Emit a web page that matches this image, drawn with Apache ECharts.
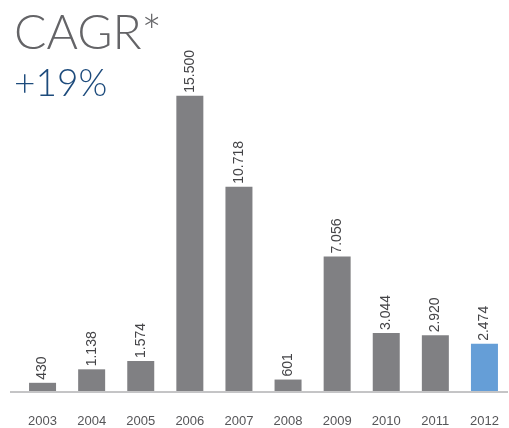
<!DOCTYPE html>
<html>
<head>
<meta charset="utf-8">
<script src="https://cdn.jsdelivr.net/npm/echarts@6/dist/echarts.min.js"></script>
<style>
  html, body { margin: 0; padding: 0; background: #ffffff; }
  #chart { width: 509px; height: 428px; }
</style>
</head>
<body>
<div id="chart"></div>
<script>
const years = ["2003", "2004", "2005", "2006", "2007", "2008", "2009", "2010", "2011", "2012"];
const values = [430, 1138, 1574, 15500, 10718, 601, 7056, 3044, 2920, 2474];
const highlightYear = "2012";

const BAR_COLOR = "#808083";
const HIGHLIGHT_COLOR = "#659ed7";

// 千位分隔符用点号
function fmt(v) {
  return String(v).replace(/\B(?=(\d{3})+(?!\d))/g, ".");
}

const chart = echarts.init(document.getElementById("chart"));

const option = {
  animation: false,
  title: [
    {
      text: "CAGR*",
      left: 9,
      top: 5,
      textStyle: { fontFamily: "Lato", fontSize: 48, fontWeight: 300, color: "#646467" },
    },
    {
      text: "+19%",
      left: 9,
      top: 61,
      textStyle: { fontFamily: "Lato", fontSize: 37, fontWeight: 300, color: "#1d4b7c" },
    },
  ],
  grid: { left: 18, right: 0, top: 10, bottom: 36 },
  xAxis: {
    type: "category",
    data: years,
    axisLine: { show: false },
    axisTick: { show: false },
    axisLabel: {
      margin: 24,
      color: "#555558",
      fontSize: 13,
      fontFamily: "Liberation Sans",
    },
  },
  yAxis: {
    type: "value",
    min: 0,
    max: 20000,
    show: false,
    splitLine: { show: false },
  },
  graphic: [
    {
      type: "line",
      shape: { x1: 10, y1: 392, x2: 508, y2: 392 },
      style: { stroke: "#8a8a8d", lineWidth: 1 },
      z: 10,
    },
  ],
  series: [
    {
      type: "bar",
      barWidth: 27,
      data: values.map((v, i) => ({
        value: v,
        itemStyle: { color: years[i] === highlightYear ? HIGHLIGHT_COLOR : BAR_COLOR },
      })),
      label: {
        show: true,
        position: "top",
        rotate: 90,
        align: "left",
        verticalAlign: "middle",
        distance: 3,
        color: "#444447",
        fontSize: 14,
        fontFamily: "Liberation Sans",
        formatter: (p) => fmt(p.value),
      },
    },
  ],
};

chart.setOption(option);
</script>
</body>
</html>
